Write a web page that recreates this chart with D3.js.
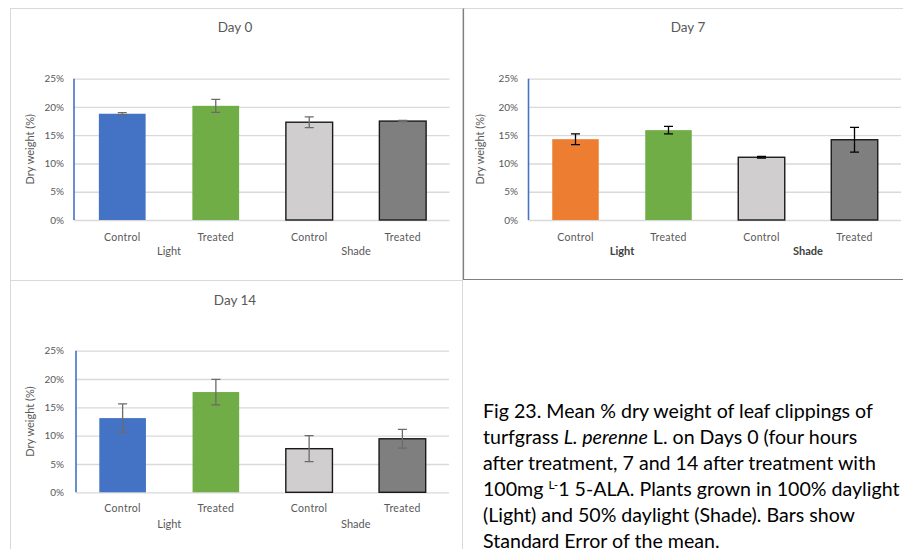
<!DOCTYPE html>
<html>
<head>
<meta charset="utf-8">
<script src="https://cdn.jsdelivr.net/npm/d3@7"></script>
<style>
  html, body { margin: 0; padding: 0; background: #fff; }
  svg { display: block; }
  text { font-family: Lato, "Open Sans", sans-serif; }
</style>
</head>
<body>
<svg id="fig" width="903" height="549"></svg>
<script>
// Dry weight (%) per treatment, read as Light Control, Light Treated, Shade Control, Shade Treated
const categories = ["Control", "Treated", "Control", "Treated"];
const groups = ["Light", "Shade"];
const panelTitles = ["Day 0", "Day 7", "Day 14"];
const yTicks = [0, 5, 10, 15, 20, 25];

const day0Values = [18.8, 20.2, 17.3, 17.5];
const day0Errors = [0.2, 1.15, 0.95, 0.1];
const day7Values = [14.3, 15.9, 11.1, 14.2];
const day7Errors = [0.95, 0.65, 0.15, 2.2];
const day14Values = [13.1, 17.7, 7.7, 9.45];
const day14Errors = [2.5, 2.25, 2.3, 1.65];

const captionLines = [
  [{t: "Fig 23. Mean % dry weight of leaf clippings of"}],
  [{t: "turfgrass "}, {t: "L. perenne", i: true}, {t: " L. on Days 0 (four hours"}],
  [{t: "after treatment, 7 and 14 after treatment with"}],
  [{t: "100mg "}, {t: "L-", sup: true}, {t: "1 5-ALA. Plants grown in 100% daylight"}],
  [{t: "(Light) and 50% daylight (Shade). Bars show"}],
  [{t: "Standard Error of the mean."}]
];

const BLUE = "#4472C4", GREEN = "#70AD47", ORANGE = "#ED7D31",
      LGRAY = "#D0CECE", DGRAY = "#7F7F7F";

const panels = [
  { title: panelTitles[0], values: day0Values, errors: day0Errors,
    fills: [BLUE, GREEN, LGRAY, DGRAY],
    frame: {x: 10, y: 8, w: 452, h: 272, stroke: "#d9d9d9"},
    axisX: 74, x0: 75.5, x1: 449.5, yTop: 78.7, yBot: 220,
    titleX: 235, titleY: 32, tickX: 64, yTitleX: 31, catY: 241, grpY: 255,
    errColor: "#6b6b6b", groupBold: false },
  { title: panelTitles[1], values: day7Values, errors: day7Errors,
    fills: [ORANGE, GREEN, LGRAY, DGRAY],
    frame: {x: 463, y: 8, w: 460, h: 271, stroke: "#d9d9d9", dark: "#7f7f7f"},
    axisX: 528.5, x0: 529, x1: 901, yTop: 78.7, yBot: 220,
    titleX: 688, titleY: 32, tickX: 518, yTitleX: 481, catY: 241, grpY: 255,
    errColor: "#000", groupBold: true },
  { title: panelTitles[2], values: day14Values, errors: day14Errors,
    fills: [BLUE, GREEN, LGRAY, DGRAY],
    frame: {x: 10, y: 280, w: 452, h: 290, stroke: "#d9d9d9"},
    axisX: 76, x0: 76, x1: 449, yTop: 350.7, yBot: 492.3,
    titleX: 235, titleY: 305, tickX: 64, yTitleX: 31, catY: 512, grpY: 528,
    errColor: "#6b6b6b", groupBold: false }
];

const svg = d3.select("#fig");

panels.forEach(p => {
  const g = svg.append("g");
  const f = p.frame;

  // chart area frame
  g.append("rect").attr("x", f.x + 0.5).attr("y", f.y + 0.5)
    .attr("width", f.w).attr("height", f.h)
    .attr("fill", "#fff").attr("stroke", f.stroke).attr("stroke-width", 1);
  if (f.dark) {
    g.append("path")
      .attr("d", `M${f.x + 0.5},${f.y + 0.5}V${f.y + f.h + 0.5}H903`)
      .attr("fill", "none").attr("stroke", f.dark).attr("stroke-width", 1.2);
  }

  const x = d3.scaleBand().domain(d3.range(categories.length))
    .range([p.x0, p.x1]).paddingInner(0.5).paddingOuter(0.25);
  const y = d3.scaleLinear().domain([0, 25]).range([p.yBot, p.yTop]);

  // title
  g.append("text").attr("x", p.titleX).attr("y", p.titleY)
    .attr("text-anchor", "middle").attr("font-size", 13.5).attr("fill", "#595959")
    .text(p.title);

  // gridlines + tick labels via d3 axis
  const yAxis = d3.axisLeft(y).tickValues(yTicks)
    .tickFormat(d => d + "%").tickSize(-(p.x1 - p.axisX)).tickPadding(0);
  const ag = g.append("g").attr("transform", `translate(${p.axisX},0)`).call(yAxis);
  ag.select(".domain").remove();
  ag.selectAll(".tick line").attr("stroke", "#d9d9d9").attr("stroke-width", 1.3);
  ag.selectAll(".tick text")
    .attr("x", p.tickX - p.axisX).attr("fill", "#595959")
    .attr("font-size", 10).attr("font-family", "Lato, sans-serif");

  // y axis title
  g.append("text")
    .attr("transform", `translate(${p.yTitleX},${(p.yTop + p.yBot) / 2}) rotate(-90)`)
    .attr("text-anchor", "middle").attr("dominant-baseline", "middle")
    .attr("font-size", 11).attr("fill", "#595959").text("Dry weight (%)");

  // bars
  const idx = d3.range(categories.length);
  g.selectAll("rect.bar").data(idx).join("rect").attr("class", "bar")
    .attr("x", i => x(i)).attr("width", x.bandwidth())
    .attr("y", i => y(p.values[i])).attr("height", i => y(0) - y(p.values[i]))
    .attr("fill", i => p.fills[i])
    .attr("stroke", i => i >= 2 ? "#1a1a1a" : "none")
    .attr("stroke-width", 1.4);

  // value axis line
  g.append("line").attr("x1", p.axisX).attr("x2", p.axisX)
    .attr("y1", y(25)).attr("y2", y(0))
    .attr("stroke", BLUE).attr("stroke-width", 1.6);

  // error bars (± standard error)
  const cap = 4.5;
  idx.forEach(i => {
    const cx = x(i) + x.bandwidth() / 2;
    const hi = y(p.values[i] + p.errors[i]), lo = y(p.values[i] - p.errors[i]);
    g.append("path")
      .attr("d", `M${cx},${hi}V${lo}M${cx - cap},${hi}H${cx + cap}M${cx - cap},${lo}H${cx + cap}`)
      .attr("fill", "none").attr("stroke", p.errColor).attr("stroke-width", 1.3);
  });

  // category labels
  g.selectAll("text.cat").data(idx).join("text").attr("class", "cat")
    .attr("x", i => x(i) + x.bandwidth() / 2).attr("y", p.catY)
    .attr("text-anchor", "middle").attr("font-size", 10.5).attr("fill", "#595959")
    .attr("letter-spacing", 0.3)
    .text(i => categories[i]);

  // group labels
  groups.forEach((grp, k) => {
    const a = x(2 * k) + x.bandwidth() / 2, b = x(2 * k + 1) + x.bandwidth() / 2;
    g.append("text").attr("x", (a + b) / 2).attr("y", p.grpY)
      .attr("text-anchor", "middle").attr("font-size", 11)
      .attr("font-weight", p.groupBold ? "bold" : "normal")
      .attr("fill", p.groupBold ? "#404040" : "#595959")
      .text(grp);
  });
});

// caption
const cap = svg.append("text").attr("font-size", 19.6).attr("fill", "#000");
captionLines.forEach((line, li) => {
  line.forEach((seg, si) => {
    const ts = cap.append("tspan").text(seg.t);
    if (si === 0) ts.attr("x", 483).attr("y", 418 + li * 26);
    if (seg.i) ts.attr("font-style", "italic");
    if (seg.sup) ts.attr("font-size", 12).attr("dy", -7);
    if (si > 0 && line[si - 1].sup) ts.attr("dy", 7);
  });
});
</script>
</body>
</html>
